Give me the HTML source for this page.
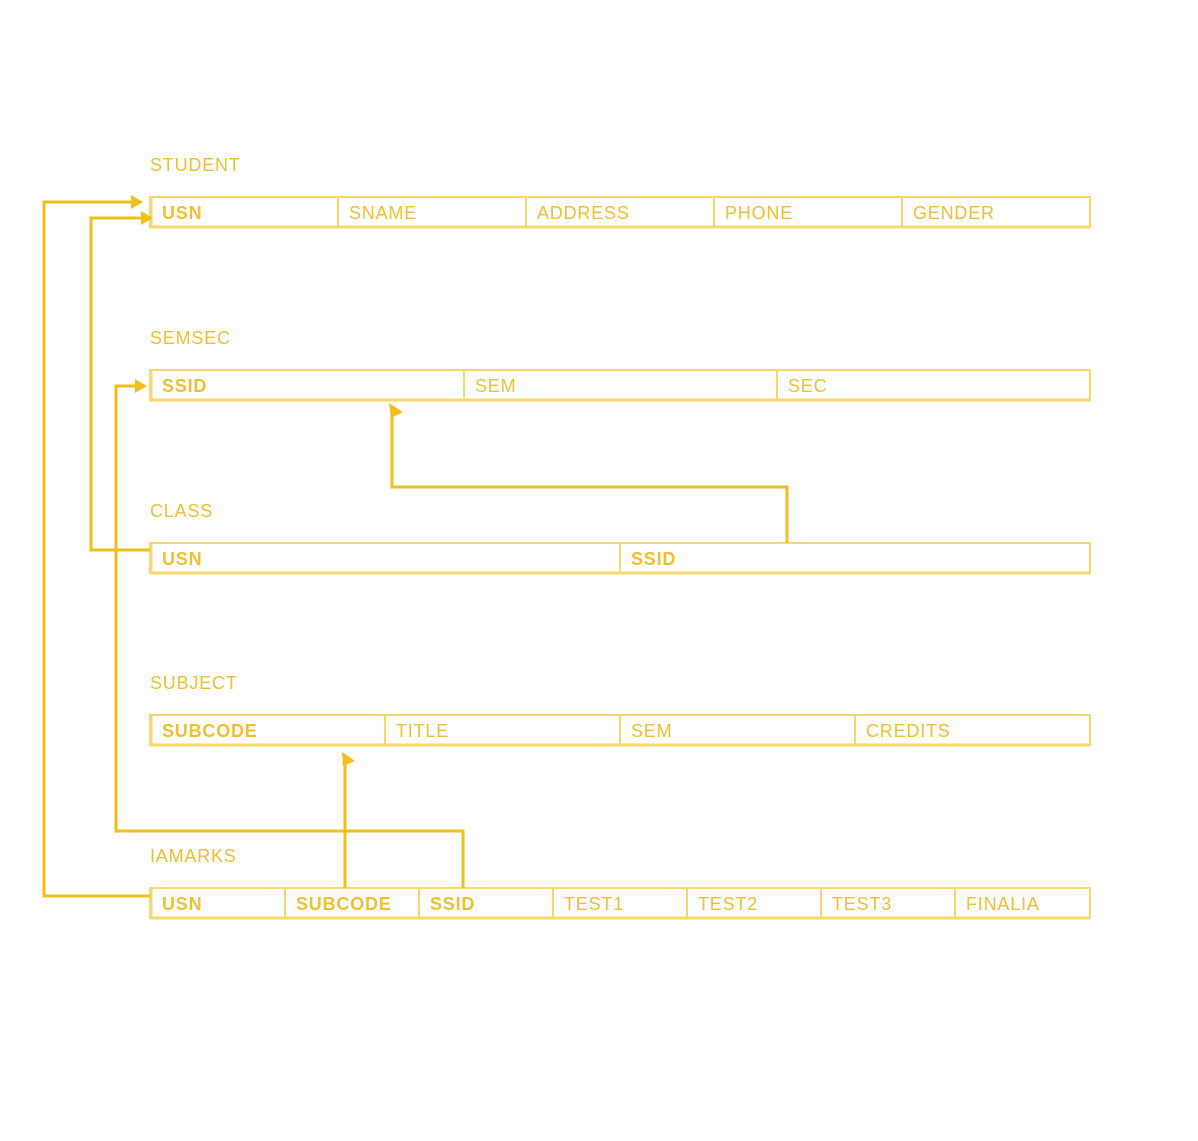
<!DOCTYPE html>
<html><head><meta charset="utf-8"><style>
html,body{margin:0;padding:0;background:#fff;width:1198px;height:1141px;overflow:hidden}
svg text{font-family:"Liberation Sans",sans-serif;font-size:18px;fill:#f0c030;letter-spacing:0.8px}
.b{font-weight:bold}
</style></head><body>
<svg width="1198" height="1141" viewBox="0 0 1198 1141" xmlns="http://www.w3.org/2000/svg">
<g fill="none" stroke="#f8d86a" stroke-width="2">
<rect x="150" y="197" width="940" height="30"/>
<rect x="150" y="370" width="940" height="30"/>
<rect x="150" y="543" width="940" height="30"/>
<rect x="150" y="715" width="940" height="30"/>
<rect x="150" y="888" width="940" height="30"/>
<path d="M338 197V227M526 197V227M714 197V227M902 197V227
M464 370V400M777 370V400
M620 543V573
M385 715V745M620 715V745M855 715V745
M285 888V918M419 888V918M553 888V918M687 888V918M821 888V918M955 888V918"/>
</g>
<g stroke="#f8d86a" stroke-width="3">
<line x1="150" y1="227" x2="1090" y2="227"/>
<line x1="150" y1="400" x2="1090" y2="400"/>
<line x1="150" y1="573" x2="1090" y2="573"/>
<line x1="150" y1="745" x2="1090" y2="745"/>
<line x1="150" y1="918" x2="1090" y2="918"/>
<line x1="151" y1="197" x2="151" y2="227"/>
<line x1="151" y1="370" x2="151" y2="400"/>
<line x1="151" y1="543" x2="151" y2="573"/>
<line x1="151" y1="715" x2="151" y2="745"/>
<line x1="151" y1="888" x2="151" y2="918"/>
</g>
<text x="150" y="171">STUDENT</text>
<text x="150" y="344">SEMSEC</text>
<text x="150" y="517">CLASS</text>
<text x="150" y="689">SUBJECT</text>
<text x="150" y="862">IAMARKS</text>
<text x="162" y="219" class="b">USN</text>
<text x="349" y="219">SNAME</text>
<text x="537" y="219">ADDRESS</text>
<text x="725" y="219">PHONE</text>
<text x="913" y="219">GENDER</text>
<text x="162" y="392" class="b">SSID</text>
<text x="475" y="392">SEM</text>
<text x="788" y="392">SEC</text>
<text x="162" y="565" class="b">USN</text>
<text x="631" y="565" class="b">SSID</text>
<text x="162" y="737" class="b">SUBCODE</text>
<text x="396" y="737">TITLE</text>
<text x="631" y="737">SEM</text>
<text x="866" y="737">CREDITS</text>
<text x="162" y="910" class="b">USN</text>
<text x="296" y="910" class="b">SUBCODE</text>
<text x="430" y="910" class="b">SSID</text>
<text x="564" y="910">TEST1</text>
<text x="698" y="910">TEST2</text>
<text x="832" y="910">TEST3</text>
<text x="966" y="910">FINALIA</text>
<g fill="none" stroke="#f2bf1a" stroke-width="3">
<path d="M150 896H44V202H132"/>
<path d="M150 550H91V218H142"/>
<path d="M463 888V831H116V386H136"/>
<path d="M345 888V762"/>
<path d="M787 543V487H392V413"/>
</g>
<g fill="#f2bf1a">
<polygon points="131,195 143,202 131,209"/>
<polygon points="141,211 153,218 141,225"/>
<polygon points="135,379 147,386 135,393"/>
<polygon points="389,403 403,412 391,418"/>
<polygon points="342,752 355,761 343,766"/>
</g>
</svg>
</body></html>
